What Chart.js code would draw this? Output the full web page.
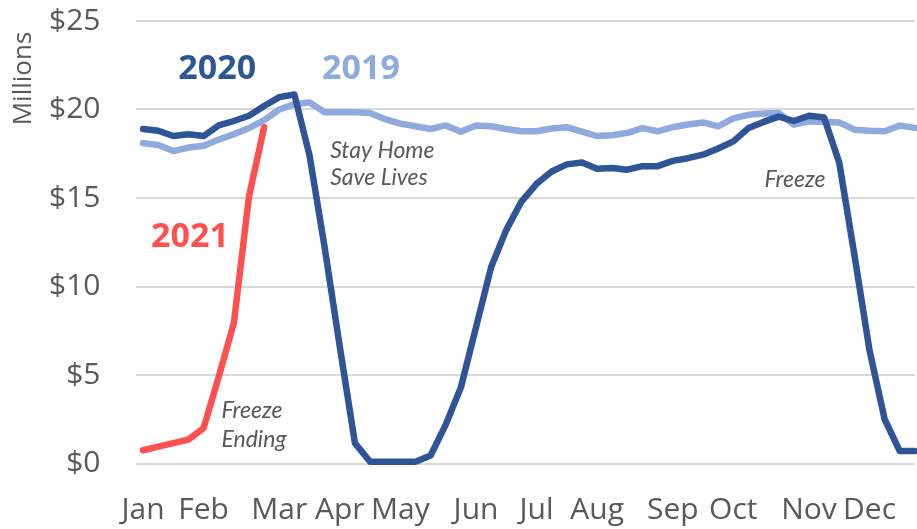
<!DOCTYPE html>
<html>
<head>
<meta charset="utf-8">
<script src="https://cdn.jsdelivr.net/npm/chart.js@4"></script>
<style>
	html, body { margin: 0; padding: 0; background: #fff; }
</style>
</head>
<body>
<canvas id="myChart" width="917" height="529"></canvas>
<script>
// weekly sales, millions of dollars (52 weeks)
var months = ['Jan', 'Feb', 'Mar', 'Apr', 'May', 'Jun', 'Jul', 'Aug', 'Sep', 'Oct', 'Nov', 'Dec']
var monthWeeks = [0, 4, 9, 13, 17, 22, 26, 30, 35, 39, 44, 48]
var yTicks = [0, 5, 10, 15, 20, 25]

var sales2019 = [18.1, 18.0, 17.65, 17.85, 17.95, 18.3, 18.6, 18.95, 19.4, 20.0,
	20.3, 20.4, 19.85, 19.85, 19.85, 19.8, 19.45, 19.2, 19.05, 18.9,
	19.1, 18.75, 19.1, 19.05, 18.9, 18.77, 18.77, 18.93, 19.0, 18.75,
	18.5, 18.55, 18.68, 18.95, 18.77, 19.0, 19.15, 19.27, 19.05, 19.5,
	19.7, 19.78, 19.8, 19.15, 19.33, 19.3, 19.27, 18.86, 18.8, 18.77,
	19.09, 18.96]
var sales2020 = [18.9, 18.8, 18.5, 18.6, 18.5, 19.1, 19.35, 19.65, 20.2, 20.7,
	20.85, 17.4, 12.2, 6.6, 1.15, 0.1, 0.1, 0.1, 0.1, 0.45,
	2.2, 4.3, 7.7, 11.1, 13.2, 14.8, 15.8, 16.5, 16.9, 17.0,
	16.65, 16.7, 16.6, 16.8, 16.8, 17.1, 17.25, 17.45, 17.8, 18.2,
	18.95, 19.3, 19.6, 19.35, 19.65, 19.55, 17.0, 11.8, 6.4, 2.5,
	0.7, 0.7]
var sales2021 = [0.75, 0.95, 1.15, 1.35, 2.0, 4.9, 7.95, 15.1, 19.0]

var grey = '#595959'
var darkBlue = '#2F5597'
var lightBlue = '#8FAADC'
var red = '#FF5050'

// text notes placed in chart units (week, $M at baseline)
var notes = [
	{ text: '2020', week: 4.9, value: 21.72, font: 'bold 34px "Open Sans"', color: darkBlue, align: 'center' },
	{ text: '2019', week: 14.4, value: 21.72, font: 'bold 34px "Open Sans"', color: lightBlue, align: 'center' },
	{ text: '2021', week: 3.1, value: 12.23, font: 'bold 34px "Open Sans"', color: red, align: 'center' },
	{ text: 'Stay Home', week: 12.36, value: 17.26, font: 'italic 23px Lato', color: grey, align: 'left' },
	{ text: 'Save Lives', week: 12.36, value: 15.73, font: 'italic 23px Lato', color: grey, align: 'left' },
	{ text: 'Freeze', week: 41.06, value: 15.64, font: 'italic 23px Lato', color: grey, align: 'left' },
	{ text: 'Freeze', week: 5.18, value: 2.57, font: 'italic 23px Lato', color: grey, align: 'left' },
	{ text: 'Ending', week: 5.18, value: 0.95, font: 'italic 23px Lato', color: grey, align: 'left' }
]

function toPoints (values) {
	return values.map((v, i) => ({ x: i, y: v }))
}

var notesPlugin = {
	id: 'notes',
	afterDraw (chart) {
		var ctx = chart.ctx
		var xs = chart.scales.x
		var ys = chart.scales.y
		ctx.save()
		ctx.textBaseline = 'alphabetic'
		notes.forEach(n => {
			ctx.font = n.font
			ctx.fillStyle = n.color
			ctx.textAlign = n.align
			ctx.fillText(n.text, xs.getPixelForValue(n.week), ys.getPixelForValue(n.value))
		})
		// axis title
		ctx.translate(31, 78.5)
		ctx.rotate(-Math.PI / 2)
		ctx.font = '26px "Open Sans"'
		ctx.fillStyle = grey
		ctx.textAlign = 'center'
		ctx.fillText('Millions', 0, 0)
		ctx.restore()
	}
}

Chart.defaults.font.family = '"Open Sans", sans-serif'

function lineSet (label, values, color) {
	return {
		label: label,
		data: toPoints(values),
		borderColor: color,
		backgroundColor: color,
		borderWidth: 6.5,
		pointRadius: 0,
		tension: 0,
		borderJoinStyle: 'round',
		borderCapStyle: 'round',
		clip: false
	}
}

var ctx = document.getElementById('myChart').getContext('2d')
var myChart = new Chart(ctx, {
	type: 'line',
	data: {
		datasets: [
			lineSet('2021', sales2021, red),
			lineSet('2020', sales2020, darkBlue),
			lineSet('2019', sales2019, lightBlue)
		]
	},
	options: {
		responsive: false,
		animation: false,
		layout: { padding: { top: 21, left: 0, right: 0, bottom: 0 } },
		plugins: {
			legend: { display: false },
			tooltip: { enabled: false }
		},
		scales: {
			x: {
				type: 'linear',
				min: -0.5,
				max: 51,
				grid: { display: false },
				border: { display: false },
				afterBuildTicks: s => { s.ticks = monthWeeks.map(w => ({ value: w })) },
				afterFit: s => { s.height = 65.5 },
				ticks: {
					autoSkip: false,
					maxRotation: 0,
					padding: 21,
					color: grey,
					font: { size: 30 },
					callback: (v, i) => months[i]
				}
			},
			y: {
				min: 0,
				max: 25,
				afterBuildTicks: s => { s.ticks = yTicks.map(v => ({ value: v })) },
				afterFit: s => { s.width = 135.5 },
				grid: { color: '#D9D9D9', lineWidth: 2, drawTicks: true, tickLength: 35, tickColor: 'rgba(0,0,0,0)' },
				border: { display: false },
				ticks: {
					padding: 0,
					color: grey,
					font: { size: 30 },
					callback: v => '$' + v
				}
			}
		}
	},
	plugins: [notesPlugin]
})
</script>
</body>
</html>
